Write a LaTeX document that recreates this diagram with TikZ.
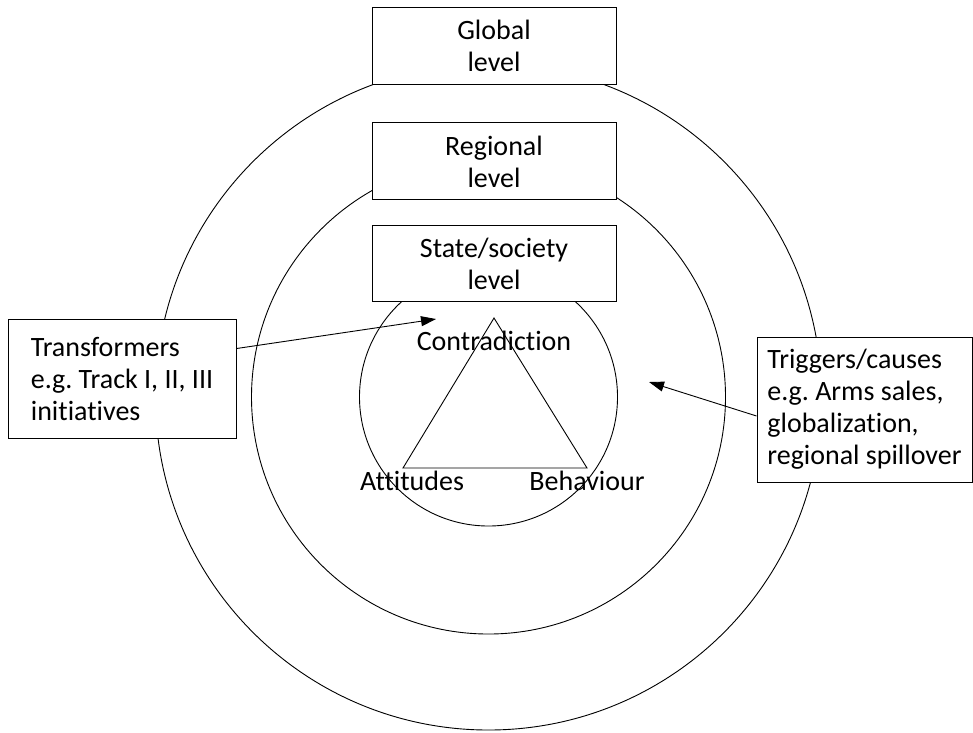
\documentclass[tikz,border=0pt]{standalone}
\usepackage{fontspec}
\setmainfont{Carlito}[Ligatures=NoCommon]
\frenchspacing
\usepackage{tikz}
\usetikzlibrary{arrows.meta,positioning,calc}

\begin{document}
\begin{tikzpicture}[
  x=1pt, y=-1pt,
  >={Triangle[length=15pt,width=10pt]},
  % Styles
  box/.style={draw, line width=0.9pt, fill=white, align=left, inner sep=0pt,
              font=\fontsize{28}{32}\selectfont},
  lvl/.style={box, align=center, minimum width=244pt, minimum height=77pt},
  ring/.style={line width=0.9pt},
  vlabel/.style={font=\fontsize{28}{32}\selectfont, inner sep=0pt, anchor=base},
  flow/.style={->, line width=0.9pt}
]
\useasboundingbox (0,0) rectangle (973,732);

% --- 1. Rings ---
\coordinate (ctr) at (488.5,397);
\draw[ring] (ctr) circle[radius=333pt];
\draw[ring] (ctr) circle[radius=237pt];
\draw[ring] (ctr) circle[radius=129pt];

% --- 2. Levels ---
\node[lvl] (global) at (494,45.5) {Global\\level};
\node[lvl, below=38pt of global] (regional) {Regional\\level};
\node[lvl, below=25pt of regional, minimum height=76pt] (state) {State/society\\level};

% --- 3. Conflict triangle ---
\coordinate (apex) at (494,318);
\coordinate (baseL) at (403,468);
\coordinate (baseR) at (587,468);
\draw[ring] (apex) -- (baseL) -- (baseR) -- cycle;

\node[vlabel] (contra) at (494,350) {Contradiction};
\node[vlabel] (attit) at (412,490) {Attitudes};
\node[vlabel] (behav) at (587,490) {Behaviour};

% --- 4. Side boxes ---
\node[box, minimum width=228pt, minimum height=119pt] (transf) at (122,378.5)
  {Transformers\\e.g. Track I, II, III\\initiatives};
\node[box, minimum width=215pt, minimum height=145pt] (trig) at (864.5,409.5)
  {Triggers/causes\\e.g. Arms sales,\\globalization,\\regional spillover};

% --- 5. Flow Arrows ---
\coordinate (tfTip) at (436,319);
\coordinate (trTip) at (649,382);
\draw[flow] ($(transf.north east)!0.25!(transf.south east)$) -- (tfTip);
\draw[flow] ([yshift=-6.5pt]trig.west) -- (trTip);

\end{tikzpicture}
\end{document}
